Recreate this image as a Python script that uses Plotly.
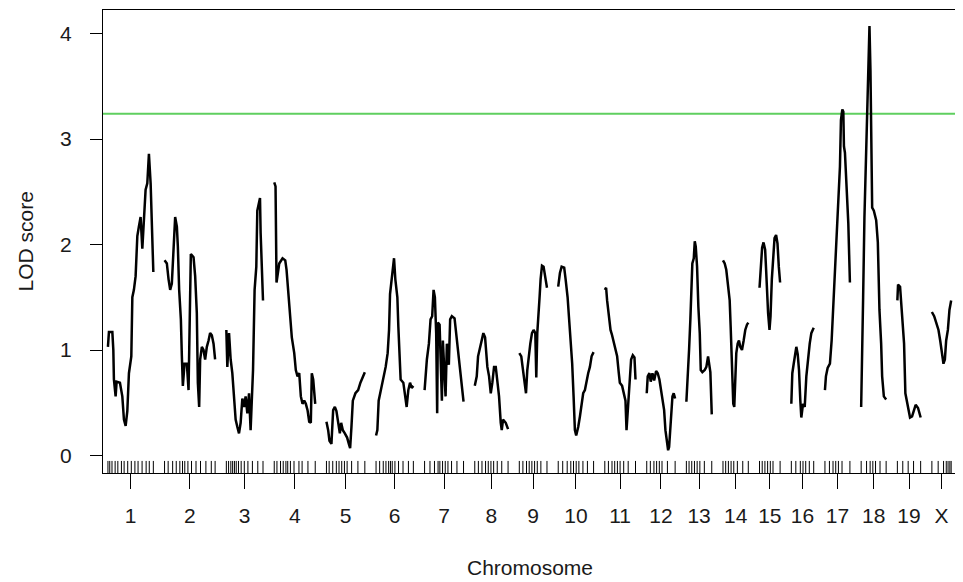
import plotly.graph_objects as go

# ---------------- data ----------------
chromosomes = ["1", "2", "3", "4", "5", "6", "7", "8", "9", "10",
               "11", "12", "13", "14", "15", "16", "17", "18", "19", "X"]
gap_cM = 25
threshold = 3.24

pos_1 = [0, 2.2, 9.8, 12, 13.3, 17.1, 19.3, 26.7, 32, 35.6, 39.4, 43.1, 46.7, 52, 54.3, 57.8, 61.6, 65.4, 68.9, 72.7, 76.5, 80.1, 83.8, 87.6, 91.2, 95, 98.7, 101]
lod_1 = [1.03, 1.17, 1.17, 1.00, 0.72, 0.56, 0.70, 0.69, 0.56, 0.34, 0.28, 0.42, 0.78, 0.94, 1.50, 1.57, 1.70, 2.08, 2.17, 2.26, 1.96, 2.28, 2.52, 2.58, 2.86, 2.58, 2.11, 1.74]

pos_2 = [0, 5.1, 8.9, 12.5, 16.2, 20, 23.6, 27.4, 29.6, 32.5, 36.3, 38.5, 40.7, 44.5, 49.6, 53.4, 55.6, 58.5, 64.5, 68.1, 71.8, 74.1, 77, 79.2, 83, 86.7, 90.3, 94.1, 97.9, 101.4, 105.2, 109, 112.5]
lod_2 = [1.85, 1.82, 1.67, 1.57, 1.63, 1.94, 2.26, 2.17, 1.98, 1.57, 1.29, 0.94, 0.66, 0.87, 0.87, 0.62, 1.19, 1.91, 1.88, 1.70, 1.35, 0.69, 0.46, 0.91, 1.03, 1.00, 0.91, 1.03, 1.09, 1.16, 1.14, 1.06, 0.91]

pos_3 = [0, 2.2, 6, 9.6, 13.3, 17.1, 20.7, 24.5, 28.2, 31.8, 35.6, 39.4, 42.9, 46.7, 50.5, 54, 56.3, 59.4, 62.9, 66.7, 68.9, 72.7, 74.9, 76.3, 78.5, 81.6]
lod_3 = [1.19, 0.84, 1.16, 0.91, 0.78, 0.56, 0.34, 0.27, 0.21, 0.31, 0.54, 0.46, 0.56, 0.40, 0.59, 0.24, 0.56, 0.81, 1.57, 1.79, 2.32, 2.42, 2.44, 2.11, 1.88, 1.47]

pos_4 = [0, 2.9, 5.1, 11.1, 18.5, 24.5, 27.4, 31.8, 34.7, 39.1, 44.5, 48, 51.8, 55.6, 59.2, 62.9, 66.7, 70.3, 74.1, 77.8, 81.4, 83.6, 86.7, 91.2]
lod_4 = [2.59, 2.55, 1.64, 1.82, 1.87, 1.85, 1.76, 1.50, 1.29, 1.12, 0.97, 0.81, 0.75, 0.78, 0.56, 0.49, 0.52, 0.49, 0.43, 0.32, 0.31, 0.78, 0.72, 0.49]

pos_5 = [0, 3.8, 6.7, 11.1, 14.9, 18.7, 22.2, 26, 29.8, 32.7, 36.5, 40.9, 46, 49.8, 52.7, 55.6, 58.7, 64.5, 70.5, 75.6, 81, 85.4]
lod_5 = [0.32, 0.24, 0.14, 0.11, 0.43, 0.46, 0.42, 0.31, 0.21, 0.31, 0.24, 0.21, 0.17, 0.11, 0.07, 0.27, 0.52, 0.59, 0.62, 0.69, 0.75, 0.79]

pos_6 = [0, 2.9, 5.8, 8.9, 12.5, 17.8, 21.4, 25.8, 28.9, 31.1, 34, 36.9, 40, 42.9, 47.4, 49.6, 51.8, 54.7, 60.7, 64.5, 68.1, 71.8, 75.6, 79.2, 83]
lod_6 = [0.19, 0.24, 0.52, 0.58, 0.65, 0.75, 0.84, 0.97, 1.19, 1.53, 1.64, 1.79, 1.87, 1.67, 1.50, 1.22, 0.94, 0.72, 0.69, 0.56, 0.46, 0.62, 0.69, 0.64, 0.66]

pos_7 = [0, 5.1, 9.6, 13.3, 16.9, 20, 22.9, 25.8, 28, 29.6, 33.4, 35.6, 38.5, 40.7, 44.5, 46.7, 49.6, 54, 56.9, 60.7, 66.7, 70.3, 74.1, 79.2, 83.6, 86.7]
lod_7 = [0.62, 0.91, 1.06, 1.29, 1.32, 1.57, 1.50, 1.16, 0.40, 1.26, 1.24, 0.97, 0.52, 1.09, 0.69, 0.56, 1.06, 0.86, 1.29, 1.32, 1.30, 1.16, 0.97, 0.75, 0.62, 0.51]

pos_8 = [0, 4.4, 7.3, 11.8, 15.6, 19.1, 22.9, 25.8, 28, 31.8, 35.6, 39.1, 42.9, 46.7, 50.3, 54, 57.8, 60, 62.9, 68.9, 74.1]
lod_8 = [0.66, 0.75, 0.94, 1.03, 1.12, 1.16, 1.12, 0.97, 0.84, 0.75, 0.59, 0.69, 0.84, 0.84, 0.72, 0.56, 0.31, 0.24, 0.34, 0.31, 0.25]

pos_9 = [0, 4.4, 7.3, 11.8, 14.9, 17.8, 20.7, 24.5, 28.2, 31.8, 35.6, 37.8, 40, 42.9, 45.1, 47.4, 50.5, 54, 57.8, 61.6]
lod_9 = [0.97, 0.94, 0.84, 0.65, 0.59, 0.81, 0.94, 1.06, 1.16, 1.19, 1.16, 0.74, 1.16, 1.32, 1.50, 1.67, 1.80, 1.79, 1.70, 1.59]

pos_10 = [0, 3.8, 7.6, 13.3, 16.5, 20.9, 23.8, 28.2, 31.1, 34.2, 37.1, 40, 44.5, 48.3, 52, 55.6, 59.4, 63.2, 66.7, 70.5, 74.3, 78.7]
lod_10 = [1.60, 1.73, 1.79, 1.78, 1.67, 1.50, 1.32, 1.09, 0.87, 0.56, 0.24, 0.19, 0.27, 0.37, 0.49, 0.59, 0.62, 0.72, 0.78, 0.84, 0.94, 0.98]

pos_11 = [0, 2.9, 5.1, 8.9, 12.7, 16.2, 20, 23.8, 27.4, 31.1, 33.4, 38.5, 42.3, 46, 48.3, 51.2, 53.4, 55.6, 58.5, 62.3, 66, 68.3]
lod_11 = [1.57, 1.59, 1.47, 1.32, 1.19, 1.14, 1.06, 1.00, 0.94, 0.78, 0.69, 0.66, 0.59, 0.52, 0.24, 0.43, 0.65, 0.78, 0.91, 0.95, 0.93, 0.72]

pos_12 = [0, 2.2, 6, 8.9, 12.7, 16.5, 20.9, 24.5, 28.2, 32, 35.6, 38.7, 41.6, 44.5, 47.6, 49.8, 52, 54.3, 57.2, 60, 63.2]
lod_12 = [0.59, 0.75, 0.78, 0.70, 0.78, 0.71, 0.80, 0.78, 0.72, 0.62, 0.52, 0.43, 0.24, 0.14, 0.05, 0.08, 0.24, 0.40, 0.56, 0.59, 0.54]

pos_13 = [0, 3.8, 6, 8.9, 11.1, 13.3, 16.5, 18.7, 20.9, 23.8, 26.7, 29.8, 32, 35.6, 40.9, 44.5, 48.3, 50.5, 53.4, 56.5]
lod_13 = [0.51, 0.78, 1.00, 1.29, 1.57, 1.82, 1.87, 2.03, 1.98, 1.79, 1.41, 1.16, 0.81, 0.79, 0.81, 0.84, 0.94, 0.88, 0.79, 0.39]

pos_14 = [0, 3.8, 7.3, 11.1, 14.9, 17.1, 19.3, 20.7, 22.9, 25.1, 27.4, 29.6, 32.7, 35.6, 38.5, 42.3, 46, 49.6, 53.4, 56.3]
lod_14 = [1.85, 1.82, 1.76, 1.60, 1.47, 1.22, 1.00, 0.72, 0.49, 0.46, 0.72, 0.97, 1.06, 1.09, 1.03, 1.00, 1.09, 1.19, 1.24, 1.26]

pos_15 = [0, 2.2, 5.8, 8.9, 12.5, 14.7, 16.9, 19.1, 22.2, 24.5, 27.4, 30.2, 33.4, 36.9, 40, 42.9, 45.8]
lod_15 = [1.59, 1.74, 1.97, 2.02, 1.95, 1.76, 1.50, 1.35, 1.19, 1.32, 1.67, 1.88, 2.06, 2.09, 2.01, 1.79, 1.64]

pos_16 = [0, 2.2, 5.3, 8.2, 11.1, 14.2, 17.1, 20, 22.2, 26, 29.8, 33.4, 37.1, 40.9, 44.5, 49.8]
lod_16 = [0.49, 0.78, 0.87, 0.97, 1.03, 0.96, 0.81, 0.52, 0.36, 0.49, 0.46, 0.75, 0.94, 1.06, 1.16, 1.21]

pos_17 = [0, 2.2, 6, 11.1, 14.9, 18.7, 22.2, 26, 29.8, 33.4, 35.6, 38.7, 40.9, 42.3, 44.5, 48.3, 52, 55.6]
lod_17 = [0.62, 0.75, 0.83, 0.87, 1.09, 1.41, 1.70, 2.08, 2.46, 2.74, 3.18, 3.28, 3.26, 2.93, 2.87, 2.55, 2.20, 1.64]

pos_18 = [0, 1.5, 4.4, 7.3, 9.6, 11.8, 13.3, 16.2, 18.5, 20.7, 22.2, 24.5, 28.2, 33.4, 37.1, 40.7, 44.5, 46.7, 50.5, 55.6]
lod_18 = [0.46, 0.94, 1.50, 2.26, 2.64, 2.96, 3.31, 3.85, 4.07, 3.65, 2.96, 2.35, 2.32, 2.23, 2.02, 1.38, 1.06, 0.75, 0.56, 0.53]

pos_19 = [0, 1.5, 6, 8.9, 11.8, 14.9, 17.8, 21.6, 25.1, 28.2, 32.7, 37.1, 40.7, 46, 51.8]
lod_19 = [1.47, 1.62, 1.60, 1.44, 1.32, 1.06, 0.59, 0.49, 0.43, 0.36, 0.37, 0.42, 0.48, 0.45, 0.36]

pos_X = [0, 5.1, 9.6, 14.7, 18.5, 22.2, 25.8, 28.9, 31.8, 35.6, 39.1, 42.9]
lod_X = [1.36, 1.32, 1.26, 1.19, 1.09, 0.97, 0.87, 0.91, 1.09, 1.19, 1.38, 1.47]

# genetic markers (rug), cM within chromosome
markers_1 = [0, 4, 9, 16, 22, 30, 36, 44, 52, 60, 67, 76, 85, 92, 101]
markers_2 = [0, 8, 18, 26, 34, 40, 45, 52, 60, 70, 80, 92, 104, 112.5]
markers_3 = [0, 5, 10, 14, 18, 22, 27, 33, 40, 48, 58, 70, 81.6]
markers_4 = [0, 6, 14, 20, 26, 30, 36, 44, 55, 62, 75, 91.2]
markers_5 = [0, 6, 14, 22, 28, 34, 40, 46, 56, 70, 85.4]
markers_6 = [0, 8, 16, 22, 28, 32, 36, 42, 50, 60, 72, 83]
markers_7 = [0, 12, 22, 30, 34, 40, 46, 52, 60, 72, 86.7]
markers_8 = [0, 8, 16, 24, 30, 36, 42, 50, 60, 74.1]
markers_9 = [0, 8, 16, 22, 28, 34, 40, 48, 61.6]
markers_10 = [0, 10, 20, 28, 34, 40, 46, 55, 65, 78.7]
markers_11 = [0, 8, 16, 22, 28, 34, 42, 52, 68.3]
markers_12 = [0, 8, 16, 22, 28, 34, 46, 63.2]
markers_13 = [0, 6, 12, 18, 24, 30, 40, 56.5]
markers_14 = [0, 6, 12, 18, 24, 32, 44, 56.3]
markers_15 = [0, 6, 12, 18, 24, 30, 45.8]
markers_16 = [0, 10, 20, 26, 32, 40, 49.8]
markers_17 = [0, 10, 18, 24, 30, 38, 55.6]
markers_18 = [0, 12, 20, 26, 32, 42, 55.6]
markers_19 = [0, 12, 24, 36, 51.8]
markers_X = [0, 14, 26, 32, 36, 40, 42.9]

positions = [pos_1, pos_2, pos_3, pos_4, pos_5, pos_6, pos_7, pos_8, pos_9, pos_10,
             pos_11, pos_12, pos_13, pos_14, pos_15, pos_16, pos_17, pos_18, pos_19, pos_X]
lods = [lod_1, lod_2, lod_3, lod_4, lod_5, lod_6, lod_7, lod_8, lod_9, lod_10,
        lod_11, lod_12, lod_13, lod_14, lod_15, lod_16, lod_17, lod_18, lod_19, lod_X]
markers = [markers_1, markers_2, markers_3, markers_4, markers_5, markers_6, markers_7,
           markers_8, markers_9, markers_10, markers_11, markers_12, markers_13, markers_14,
           markers_15, markers_16, markers_17, markers_18, markers_19, markers_X]

# ---------------- layout of chromosomes ----------------
chrom_lengths = [p[-1] for p in positions]
offsets = []
cur = 0.0
for L in chrom_lengths:
    offsets.append(cur)
    cur += L + gap_cM
total_end = offsets[-1] + chrom_lengths[-1]
mids = [o + L / 2 for o, L in zip(offsets, chrom_lengths)]

xs, ys = [], []
for o, p, l in zip(offsets, positions, lods):
    xs += [o + v for v in p] + [None]
    ys += list(l) + [None]

mx = []
for o, m in zip(offsets, markers):
    mx += [o + v for v in m]

FONT = "Liberation Sans, Arial, Helvetica, sans-serif"
TXT = "#1a1a1a"

fig = go.Figure()
fig.add_trace(go.Scatter(x=xs, y=ys, mode="lines",
                         line=dict(color="black", width=2.5),
                         connectgaps=False, showlegend=False, hoverinfo="skip"))
fig.add_trace(go.Scatter(x=mx, y=[-0.118] * len(mx), mode="markers",
                         marker=dict(symbol="line-ns", size=10,
                                     line=dict(color="black", width=1)),
                         showlegend=False, hoverinfo="skip"))

fig.add_shape(type="line", xref="paper", x0=0, x1=1, yref="y", y0=threshold, y1=threshold,
              line=dict(color="#5fcf5f", width=2), layer="below")

# the page body adds an 8px offset, so the figure is 8px smaller than the window
fig.update_layout(
    width=955, height=574,
    margin=dict(l=95, r=6, t=2, b=109, autoexpand=False),
    paper_bgcolor="white", plot_bgcolor="white",
    font=dict(family=FONT, size=21, color=TXT),
    showlegend=False,
    xaxis=dict(range=[-11, total_end + 13], showgrid=False, zeroline=False,
               automargin=False,
               showline=True, mirror=True, linecolor="black", linewidth=1,
               ticks="outside", ticklen=15, tickwidth=1, tickcolor="black",
               tickvals=mids, ticktext=chromosomes,
               tickfont=dict(size=21, color=TXT), ticklabelstandoff=9),
    yaxis=dict(range=[-0.166, 4.223], showgrid=False, zeroline=False,
               automargin=False,
               showline=True, mirror=True, linecolor="black", linewidth=1,
               ticks="outside", ticklen=12, tickwidth=1, tickcolor="black",
               tickvals=[0, 1, 2, 3, 4], ticktext=["0", "1", "2", "3", "4"],
               tickfont=dict(size=21, color=TXT), ticklabelstandoff=14),
    annotations=[
        dict(text="Chromosome", xref="paper", yref="paper", x=0.5, y=-0.205,
             xanchor="center", yanchor="middle", showarrow=False,
             font=dict(size=21, color=TXT, family=FONT)),
        dict(text="LOD score", xref="paper", yref="paper", x=-0.0913, y=0.5,
             xanchor="center", yanchor="middle", showarrow=False, textangle=-90,
             font=dict(size=21, color=TXT, family=FONT)),
    ],
)

fig.write_html("out.html")
